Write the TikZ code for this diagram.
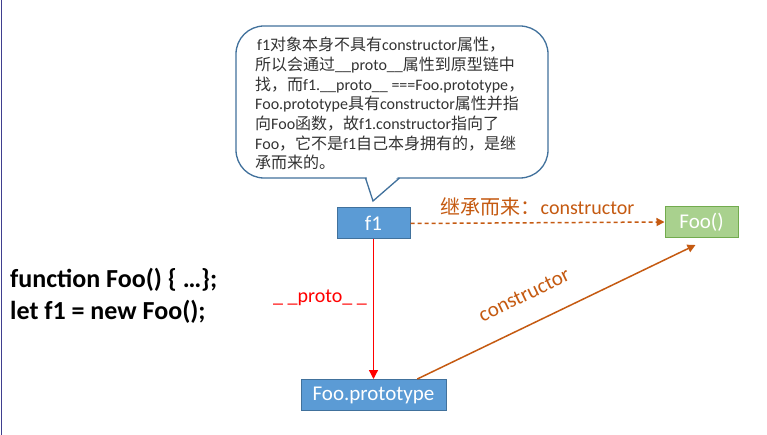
\documentclass[tikz,border=0pt]{standalone}
\usepackage{fontspec}
\setmainfont{Carlito}
\newfontfamily\cjkf{Noto Sans CJK SC}
\usetikzlibrary{arrows.meta,calc}
\newcommand\zhs[1]{{\cjkf #1}}
\definecolor{boxblue}{HTML}{5B9BD5}
\definecolor{boxblueline}{HTML}{41719C}
\definecolor{boxgreen}{HTML}{A9D18E}
\definecolor{boxgreenline}{HTML}{72AB4E}
\definecolor{orangec}{HTML}{C55A11}
\definecolor{calloutline}{HTML}{41719C}
\definecolor{txtgray}{HTML}{333333}
\definecolor{frameline}{HTML}{3F3F8F}
\tikzset{
  boxnode/.style={draw=boxblueline, fill=boxblue, line width=1pt, text=white,
    font=\fontsize{21}{24}\selectfont, inner sep=0pt, minimum height=31pt},
  greennode/.style={boxnode, draw=boxgreenline, fill=boxgreen},
  lbl/.style={font=\fontsize{20}{24}\selectfont, inner sep=0pt},
}
\begin{document}
\begin{tikzpicture}[x=1pt,y=-1pt]
\useasboundingbox (0,0) rectangle (767,435);
\fill[white] (0,0) rectangle (767,435);
\draw[frameline, line width=1pt] (1,0) -- (1,435);

% callout
\draw[calloutline, line width=1.3pt, fill=white, rounded corners=28pt] (236,26) rectangle (548,178);
\fill[white] (366.5,176.5) -- (398.5,176.5) -- (373,200) -- cycle;
\draw[calloutline, line width=1.3pt, line join=miter] (365.5,178) -- (373,201) -- (399.5,178);
\node[anchor=north west, inner sep=0pt, align=left, text=txtgray,
  font=\fontsize{16}{19.7}\selectfont] (note) at (255,37) {%
\hspace{2pt}f1\zhs{对象本身不具有}constructor\zhs{属性，}\\
\zhs{所以会通过}\_\_proto\_\_\zhs{属性到原型链中}\\
\zhs{找，而}f1.\_\_proto\_\_ ===Foo.prototype\zhs{，}\\
Foo.prototype\zhs{具有}constructor\zhs{属性并指}\\
\zhs{向}Foo\zhs{函数，故}f1.constructor\zhs{指向了}\\
Foo\zhs{，它不是}f1\zhs{自己本身拥有的，是继}\\
\zhs{承而来的。}};

% boxes
\node[boxnode, minimum width=73pt] (f1) at (373.5,223.5) {f1};
\node[greennode, minimum width=73pt] (foo) at (701.5,222) {Foo()};
\node[boxnode, minimum width=145pt] (proto) at (373.5,395) {Foo.prototype};

% code
\node[anchor=base west, inner sep=0pt, align=left,
  font=\bfseries\fontsize{26}{32}\selectfont] (code) at (10,319)
  {function Foo() \{ …\};\\let f1 = new Foo();};

% connectors
\draw[orangec, line width=1.5pt, dash pattern=on 4pt off 3pt,
  -{Triangle[length=8pt,width=8pt]}] (f1.east) -- (foo.west)
  node[lbl, midway, above=6pt, text=orangec] (inh) {\zhs{继承而来：}constructor};
\draw[red, line width=1.3pt, -{Triangle[length=9pt,width=9pt]}] (f1.south) -- (proto.north)
  node[lbl, pos=0.42, left=6pt, text=red] (pl) {\_ \_proto\_ \_};
\coordinate (cs) at ($(proto.north west)!0.8!(proto.north east)$);
\coordinate (ce) at ($(foo.south)+(-6,7)$);
\draw[orangec, line width=1.5pt, -{Triangle[length=8pt,width=8pt]}] (cs) -- (ce)
  node[pos=0.43, sloped, above=22pt, inner sep=0pt, font=\fontsize{21}{24}\selectfont, text=orangec] (cl) {constructor};
\end{tikzpicture}
\end{document}
